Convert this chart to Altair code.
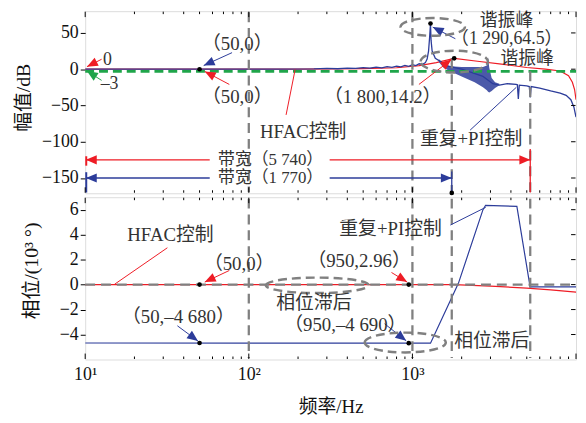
import math
import altair as alt
import pandas as pd

# ---------------- data ----------------
# Magnitude, HFAC control (red)
mag_hfac_f = [10, 200, 500, 800, 1100, 1400, 1800, 2500, 3500, 5000, 6500, 8000, 9000, 9500, 9800, 10000]
mag_hfac_db = [0, 0, 0.8, 2, 5, 9, 15, 11, 7, 2.3, 0, -2.5, -9, -18, -28, -42]

# Magnitude, repetitive + PI control (blue)
mag_rpi_f = [10, 150, 250, 300, 350, 400, 450, 500, 550, 600,
             650, 700, 750, 800, 850, 900, 950, 1000, 1050, 1100,
             1150, 1200, 1230, 1255, 1275, 1290, 1300, 1320, 1380, 1500,
             1600, 2000, 2700, 3100, 3400, 3800, 4300, 4380, 4440, 4500,
             5000, 5180, 5250, 5320, 6000, 7000, 8000, 8700, 9300, 9700,
             10000]
mag_rpi_db = [0, 0, 0.3, 1.0, 0.6, 1.6, 1.0, 2.2, 1.4, 2.8,
              1.9, 3.5, 2.5, 4.3, 3.2, 5.2, 4.0, 6.2, 5.0, 7.5,
              6.5, 9, 14, 25, 45, 63, 40, 25, 15, 10,
              5, 0, -10, -20, -22, -20, -21, -21.5, -41, -22,
              -23, -24, -39, -24, -26, -30, -33, -36, -42, -52,
              -66]
# dense oscillation band of the blue magnitude curve
band_f = [1450, 1550, 1700, 2000, 2400, 2700, 2850, 2900, 2950, 3050, 3200, 3400]
band_hi = [14, 8, 4, 3, 3, 3, 5, 16, 2, -12, -18, -20]
band_lo = [10, 2, -3, -10, -18, -25, -29, -31, -32, -30, -26, -22]

# Phase (10^3 deg)
ph_hfac_f = [10, 1800, 3000, 5000, 7000, 10000]
ph_hfac_v = [0, 0, -0.12, -0.28, -0.42, -0.6]
ph_rpi_f = [10, 1290, 1910, 2700, 2800, 4350, 5240, 10000]
ph_rpi_v = [-4.68, -4.69, 0.1, 6.0, 6.35, 6.27, -0.19, -0.19]

# marker lines
bw_red, bw_blue = 5250, 1740
guide_f = [100, 1000, bw_blue, bw_red]

# ---------------- style ----------------
FONT = "Liberation Serif, Noto Sans CJK SC"
RED, BLUE, GREEN, GRAY, TXT = "#ee1c25", "#2c3c9a", "#1fa54a", "#808080", "#333333"
W, H1, H2 = 496, 184, 164
YD1, YD2 = [-171, 80], [-6, 7]
xs = alt.Scale(type="log", domain=[10, 10000], nice=False)
ys1 = alt.Scale(domain=YD1, nice=False, zero=False)
ys2 = alt.Scale(domain=YD2, nice=False, zero=False)
ARROW = "M0,0 L-0.42,1 L0.42,1 Z"


def yaxis(vals, title, tx, ty):
    return alt.Axis(values=vals, title=title, grid=False, domain=False, tickSize=5, tickColor="black",
                    labelFont=FONT, labelFontSize=18, labelColor="#111", labelPadding=2,
                    titleFont=FONT, titleFontSize=20, titleFontWeight="normal", titleColor="#111",
                    titleX=tx, titleY=ty, titleAngle=270, titleBaseline="middle", titleAlign="center")


YAX1 = yaxis([50, 0, -50, -100, -150], "幅值/dB", -62, H1 / 2 - 5)
YAX2 = yaxis([6, 4, 2, 0, -2, -4], "相位/(10³ °)", -54, H2 / 2 - 8)
XAX_BOTTOM = alt.Axis(values=[10, 100, 1000],
                      labelExpr="datum.value == 10 ? '10¹' : datum.value == 100 ? '10²' : '10³'",
                      ticks=False, domain=False, grid=False, labelFlush=False, labelOverlap=False,
                      labelFont=FONT, labelFontSize=18, labelColor="#111", labelPadding=6,
                      title="频率/Hz", titleFont=FONT, titleFontSize=19, titleFontWeight="normal",
                      titleColor="#111", titlePadding=15)

PANELS = {
    "top": dict(ys=ys1, dom=YD1, h=H1, yax=YAX1, xax=None, yvals=[50, 0, -50, -100, -150]),
    "bot": dict(ys=ys2, dom=YD2, h=H2, yax=YAX2, xax=XAX_BOTTOM, yvals=[6, 4, 2, 0, -2, -4]),
}


def sx(f):
    return W * (math.log10(f) - 1) / 3


def sy(v, dom, h):
    return h * (dom[1] - v) / (dom[1] - dom[0])


def ellipse_path(r):
    k = 0.5523
    return (f"M-1,0 C-1,{-k*r:.3f} {-k:.3f},{-r:.3f} 0,{-r:.3f} "
            f"C{k:.3f},{-r:.3f} 1,{-k*r:.3f} 1,0 "
            f"C1,{k*r:.3f} {k:.3f},{r:.3f} 0,{r:.3f} "
            f"C{-k:.3f},{r:.3f} -1,{k*r:.3f} -1,0 Z")


def X(p, field="f"):
    return alt.X(f"{field}:Q", scale=xs, axis=p["xax"])


def Y(p, field="v"):
    return alt.Y(f"{field}:Q", scale=p["ys"], axis=p["yax"])


def line(p, fs, vs, color, width=1.2):
    df = pd.DataFrame({"f": fs, "v": vs})
    return alt.Chart(df).mark_line(color=color, strokeWidth=width, clip=True).encode(
        x=X(p), y=Y(p), order="f:Q")


def arrows(p, rows):
    recs = []
    for x1, y1, x2, y2, c, hd, w in rows:
        dx = sx(x2) - sx(x1)
        dy = sy(y2, p["dom"], p["h"]) - sy(y1, p["dom"], p["h"])
        ang = math.degrees(math.atan2(dx, -dy)) % 360
        recs.append(dict(x1=x1, y1=y1, x2=x2, y2=y2, c=c, hd=hd, ang=ang, w=w))
    df = pd.DataFrame(recs)
    ln = alt.Chart(df).mark_rule().encode(
        x=X(p, "x1"), x2="x2:Q", y=Y(p, "y1"), y2="y2:Q",
        color=alt.Color("c:N", scale=None), strokeWidth=alt.StrokeWidth("w:Q", scale=None))
    hdf = df[df["hd"]]
    hdl = alt.Chart(hdf).mark_point(shape=ARROW, filled=True, size=4 * 11 ** 2, opacity=1, strokeWidth=0).encode(
        x=X(p, "x2"), y=Y(p, "y2"),
        angle=alt.Angle("ang:Q", scale=None), color=alt.Color("c:N", scale=None))
    return [ln, hdl]


def texts(p, rows):
    df = pd.DataFrame(rows, columns=["t", "f", "v", "s"])
    return alt.Chart(df).mark_text(font=FONT, color=TXT).encode(
        x=X(p), y=Y(p), text="t:N", size=alt.Size("s:Q", scale=None))


def dots(p, fs, vs):
    df = pd.DataFrame({"f": fs, "v": vs})
    return alt.Chart(df).mark_circle(size=22, color="black", opacity=1).encode(x=X(p), y=Y(p))


def ellipses(p, rows):
    df = pd.DataFrame([dict(f=f, v=v, shp=ellipse_path(r), sz=(2 * rx) ** 2) for f, v, rx, r in rows])
    return alt.Chart(df).mark_point(filled=False, color=GRAY, strokeWidth=2.5, strokeDash=[9, 5], opacity=1).encode(
        x=X(p), y=Y(p), shape=alt.Shape("shp:N", scale=None), size=alt.Size("sz:Q", scale=None))


x_major = [10, 100, 1000, 10000]
x_minor = [20, 30, 40, 50, 60, 70, 80, 90, 200, 300, 400, 500, 600, 700, 800, 900,
           2000, 3000, 4000, 5000, 6000, 7000, 8000, 9000]


def frame_ticks(p):
    h = p["h"]
    out = []
    for vals, ln in ((x_major, 6), (x_minor, 3)):
        df = pd.DataFrame({"f": vals})
        out.append(alt.Chart(df).mark_rule(color="black", strokeWidth=1).encode(
            x=X(p), y=alt.value(h - 0.5), y2=alt.value(h - ln)))
        out.append(alt.Chart(df).mark_rule(color="black", strokeWidth=1).encode(
            x=X(p), y=alt.value(0.5), y2=alt.value(ln)))
    df = pd.DataFrame({"v": p["yvals"]})
    out.append(alt.Chart(df).mark_rule(color="black", strokeWidth=1).encode(
        y=Y(p), x=alt.value(W - 0.5), x2=alt.value(W - 5)))
    return out


# ---------------- top panel: magnitude ----------------
P = PANELS["top"]
red_mag = line(P, mag_hfac_f, mag_hfac_db, RED, 1.2)
blue_mag = line(P, mag_rpi_f, mag_rpi_db, BLUE, 1.3)
band = alt.Chart(pd.DataFrame({"f": band_f, "hi": band_hi, "lo": band_lo})).mark_area(
    color=BLUE, opacity=0.85).encode(x=X(P), y=Y(P, "hi"), y2="lo:Q")
green = alt.Chart(pd.DataFrame({"v": [-3]})).mark_rule(color=GREEN, strokeWidth=2.6, strokeDash=[9, 5]).encode(
    y=Y(P), x=alt.value(0), x2=alt.value(W))
guides1 = alt.Chart(pd.DataFrame({"f": guide_f, "a": [78.5, 78.5, 15, -3], "b": [-169.5] * 4})).mark_rule(
    color=GRAY, strokeWidth=2.3, strokeDash=[10, 6]).encode(x=X(P), y=Y(P, "a"), y2="b:Q")

arr1 = arrows(P, [
    (12.6, 13.7, 10.25, 3.5, RED, True, 1),
    (12.6, -15.4, 10.25, -2.5, GREEN, True, 1),
    (79, 22.8, 53, 5, BLUE, True, 1),
    (76, -21, 53.8, -3.1, RED, True, 1),
    (192, -0.4, 169, -63, RED, False, 1),
    (1830, 42, 1331, 58, BLUE, True, 1),
    (1096, -21, 1731, 13.2, RED, True, 1),
    (2253, -84, 4314, -25, BLUE, False, 1),
    (57.7, -125, 10.1, -125, RED, True, 1.5),
    (312, -125, bw_red, -125, RED, True, 1.5),
    (57.7, -150, 10.1, -150, BLUE, True, 1.5),
    (312, -150, bw_blue, -150, BLUE, True, 1.5),
    (bw_red, -110, bw_red, -170, RED, False, 1.3),
    (bw_blue, -141, bw_blue, -170, BLUE, False, 1.3),
    (10.15, -120, 10.15, -133, RED, False, 2),
    (10.15, -142, 10.15, -170, BLUE, False, 2),
])

txt1 = texts(P, [
    ("0", 13.7, 13, 18), ("–3", 14.1, -21, 18),
    ("（50,0）", 85, 34, 19), ("（50,0）", 85, -39, 19),
    ("HFAC控制", 215, -86.6, 19),
    ("谐振峰", 3760, 66, 18), ("（1 290,64.5）", 3770, 41, 18), ("谐振峰", 5025, 13.7, 18),
    ("（1 800,14.2）", 658, -38.8, 19),
    ("重复+PI控制", 2285, -96, 19),
    ("带宽（5 740）", 136, -125, 17), ("带宽（1 770）", 136, -150, 17),
])
dots1 = dots(P, [50, 1290, 1800, bw_blue], [0, 63, 15, -170.5])
ell1 = ellipses(P, [(1331, 58.3, 32.5, 0.277), (1803, 10.5, 34, 0.324)])

top = alt.layer(red_mag, blue_mag, band, green, guides1, *arr1, ell1, txt1, dots1,
                *frame_ticks(P)).properties(width=W, height=H1)

# ---------------- bottom panel: phase ----------------
P = PANELS["bot"]
red_ph = line(P, ph_hfac_f, ph_hfac_v, RED, 1.2)
blue_ph = line(P, ph_rpi_f, ph_rpi_v, BLUE, 1.2)
guides2 = alt.Chart(pd.DataFrame({"f": guide_f})).mark_rule(
    color=GRAY, strokeWidth=2.3, strokeDash=[10, 6]).encode(x=X(P), y=alt.value(1.5), y2=alt.value(H2 - 1.5))
zero2 = alt.Chart(pd.DataFrame({"v": [0]})).mark_rule(color=GRAY, strokeWidth=2.3, strokeDash=[10, 6]).encode(
    y=Y(P), x=alt.value(0), x2=alt.value(W))

arr2 = arrows(P, [
    (31.8, 2.95, 15.1, 0.02, RED, False, 1),
    (76, 1.13, 53.8, 0.2, RED, True, 1),
    (36.6, -3.3, 48.9, -4.52, BLUE, True, 1),
    (745, 0.97, 929, 0.2, RED, True, 1),
    (676, -3.14, 916, -4.5, BLUE, True, 1),
    (1706, 4.77, 2806, 6.19, BLUE, False, 1),
])
txt2 = texts(P, [
    ("HFAC控制", 33.2, 3.98, 19), ("（50,0）", 87.3, 1.67, 19), ("（50,–4 680）", 37.1, -2.58, 19),
    ("（950,2.96）", 472, 1.92, 19), ("相位滞后", 250, -1.48, 19), ("（950,–4 690）", 389, -3.22, 19),
    ("重复+PI控制", 735, 4.45, 19), ("相位滞后", 3055, -4.56, 19),
])
dots2 = dots(P, [50, 950, 50, 950], [0, 0, -4.68, -4.69])
ell2 = ellipses(P, [(262, -0.06, 52, 0.15), (904, -4.64, 41, 0.244)])

bottom = alt.layer(red_ph, blue_ph, guides2, zero2, *arr2, ell2, txt2, dots2,
                   *frame_ticks(P)).properties(width=W, height=H2)

chart = alt.vconcat(top, bottom, spacing=4, bounds="flush").properties(
    padding={"left": 5, "top": 0, "right": 0, "bottom": 5}
).configure_view(stroke="black", strokeWidth=1).configure(font=FONT)

chart.save("out.html", embed_options={"renderer": "svg", "actions": False})
